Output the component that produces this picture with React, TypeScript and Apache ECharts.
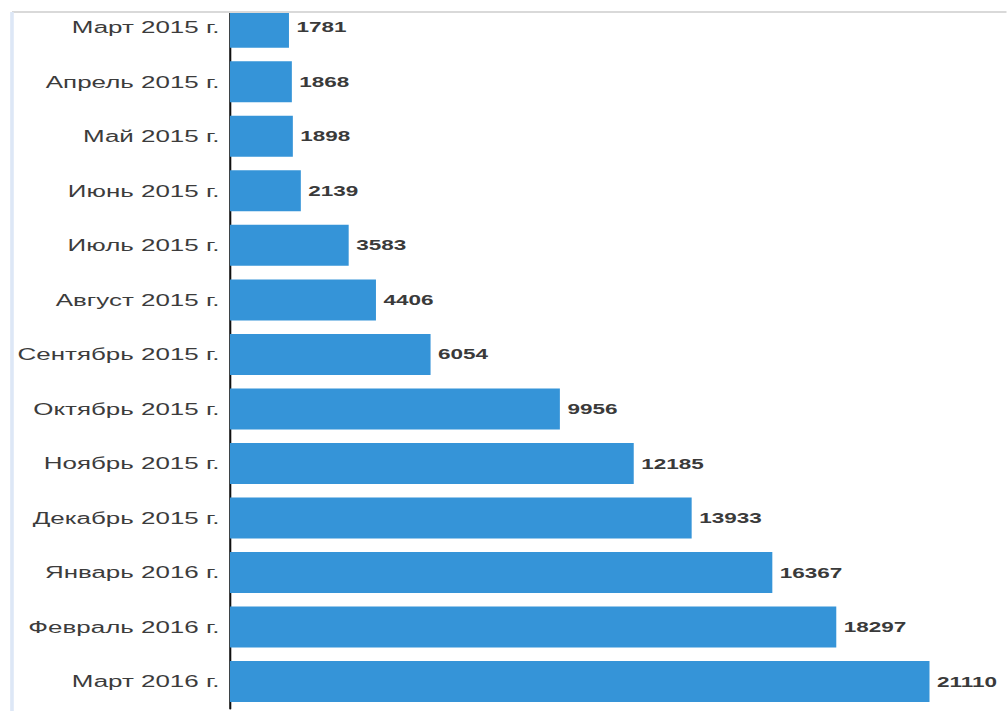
import React, { useEffect, useRef } from "react";
import * as echarts from "echarts";

const categories: string[] = [
  "Март 2015 г.",
  "Апрель 2015 г.",
  "Май 2015 г.",
  "Июнь 2015 г.",
  "Июль 2015 г.",
  "Август 2015 г.",
  "Сентябрь 2015 г.",
  "Октябрь 2015 г.",
  "Ноябрь 2015 г.",
  "Декабрь 2015 г.",
  "Январь 2016 г.",
  "Февраль 2016 г.",
  "Март 2016 г.",
];

const values: number[] = [1781, 1868, 1898, 2139, 3583, 4406, 6054, 9956, 12185, 13933, 16367, 18297, 21110];

const STRETCH = 1.5;
const W = 1007 / STRETCH;
const H = 711;

export default function App() {
  const ref = useRef<HTMLDivElement>(null);

  useEffect(() => {
    if (!ref.current) return;
    const chart = echarts.init(ref.current, null, { renderer: "svg" });
    chart.setOption({
      animation: false,
      backgroundColor: "#ffffff",
      grid: {
        left: 153.3,
        right: W - 620,
        top: -3.6,
        bottom: 2.2,
        containLabel: false,
      },
      xAxis: {
        type: "value",
        min: 0,
        max: "dataMax",
        show: false,
      },
      yAxis: {
        type: "category",
        data: categories,
        inverse: true,
        axisLine: { show: true, lineStyle: { color: "#111111", width: 1.4 } },
        axisTick: { show: false },
        axisLabel: {
          margin: 7,
          fontFamily: "Liberation Sans, Arial, sans-serif",
          fontSize: 17.3,
          color: "#3c3c3c",
        },
        splitLine: { show: false },
      },
      series: [
        {
          type: "bar",
          data: values,
          barWidth: 41,
          itemStyle: { color: "#3594d8" },
          label: {
            show: true,
            position: "right",
            distance: 5,
            fontFamily: "Liberation Sans, Arial, sans-serif",
            fontSize: 15,
            fontWeight: "bold",
            color: "#3a3a3a",
          },
        },
      ],
      graphic: [
        {
          type: "rect",
          z: 100,
          shape: { x: 0, y: 0, width: W, height: 12 },
          style: { fill: "#ffffff" },
        },
        {
          type: "line",
          z: 101,
          shape: { x1: 8, y1: 12, x2: W, y2: 12 },
          style: { stroke: "#d9d9d9", lineWidth: 2 },
        },
        {
          type: "line",
          z: 101,
          shape: { x1: 8, y1: 12, x2: 8, y2: H },
          style: { stroke: "#dde7f6", lineWidth: 2.4 },
        },
      ],
    });
    return () => chart.dispose();
  }, []);

  return (
    <div
      ref={ref}
      style={{
        position: "fixed",
        left: 0,
        top: 0,
        width: W + "px",
        height: H + "px",
        transform: `scaleX(${STRETCH})`,
        transformOrigin: "0 0",
      }}
    />
  );
}
